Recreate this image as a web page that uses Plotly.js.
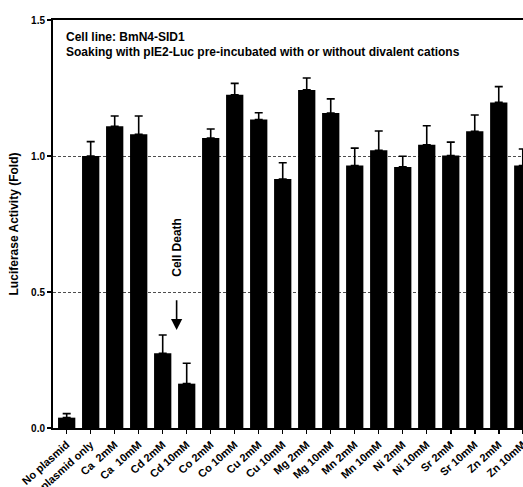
<!DOCTYPE html>
<html><head><meta charset="utf-8">
<script src="https://cdn.plot.ly/plotly-3.0.1.min.js"></script>
<style>html,body{margin:0;padding:0;overflow:hidden;background:#fff;}</style>
</head><body><div id="chart"></div>
<script>
const categories = ["No plasmid","plasmid only","Ca  2mM","Ca  10mM","Cd 2mM","Cd 10mM","Co 2mM","Co 10mM","Cu 2mM","Cu 10mM","Mg 2mM","Mg 10mM","Mn 2mM","Mn 10mM","Ni 2mM","Ni 10mM","Sr 2mM","Sr 10mM","Zn 2mM","Zn 10mM"];
const values = [0.038,1.0,1.109,1.080,0.275,0.163,1.066,1.225,1.134,0.915,1.243,1.158,0.965,1.021,0.960,1.041,1.002,1.091,1.197,0.965];
const errors = [0.015,0.053,0.038,0.067,0.067,0.075,0.033,0.042,0.025,0.060,0.044,0.052,0.064,0.071,0.039,0.070,0.049,0.060,0.058,0.061];
const yTicks = [0,0.5,1.0,1.5];
const yTickLabels = ["0.0","0.5","1.0","1.5"];

const idx = categories.map((c,i)=>i);
const F = "Liberation Sans, Arial, sans-serif";

const trace = {
  type:'bar', x: idx, y: values, width: 0.72,
  marker:{color:'#000', line:{width:0}},
  error_y:{type:'data', array: errors, arrayminus: errors.map(()=>0), symmetric:false, color:'#000', thickness:1.6, width:4},
  hoverinfo:'none'
};

const layout = {
  width:545, height:487,
  margin:{l:53, r:10, t:20, b:59},
  paper_bgcolor:'#fff', plot_bgcolor:'#fff',
  showlegend:false,
  font:{family:F, color:'#000'},
  xaxis:{
    range:[-0.57, 19.51], tickmode:'array', tickvals: idx, ticktext: categories,
    tickangle:-42, tickfont:{family:F, size:11, weight:'bold'},
    ticks:'outside', ticklen:4, tickwidth:1.5, tickcolor:'#000',
    showline:true, linewidth:2, linecolor:'#000', mirror:true,
    showgrid:false, zeroline:false
  },
  yaxis:{
    range:[0,1.5], tickmode:'array', tickvals:yTicks, ticktext:yTickLabels,
    tickfont:{family:F, size:10, weight:'bold'},
    ticks:'outside', ticklen:4, tickwidth:1.5, tickcolor:'#000',
    showline:true, linewidth:2, linecolor:'#000', mirror:true,
    showgrid:true, gridcolor:'#222', gridwidth:0.8, griddash:'3px,2px',
    zeroline:false,
    title:{text:'Luciferase Activity (Fold)', font:{family:F, size:12, weight:'bold'}, standoff:10}
  },
  annotations:[
    {xref:'paper', yref:'paper', x:0.022, y:0.958, xanchor:'left', yanchor:'middle', showarrow:false,
     text:'Cell line: BmN4-SID1', font:{family:F, size:12, weight:'bold'}},
    {xref:'paper', yref:'paper', x:0.022, y:0.922, xanchor:'left', yanchor:'middle', showarrow:false,
     text:'Soaking with pIE2-Luc pre-incubated with or without divalent cations', font:{family:F, size:12, weight:'bold'}},
    {xref:'x', yref:'y', x:4.58, y:0.665, showarrow:false, textangle:-90,
     text:'Cell Death', font:{family:'Liberation Sans', size:12, weight:'bold'}},
    {xref:'x', yref:'y', x:4.58, y:0.36, axref:'x', ayref:'y', ax:4.58, ay:0.475,
     text:'', showarrow:true, arrowhead:2, arrowsize:1.4, arrowwidth:1.6, arrowcolor:'#000'}
  ]
};

Plotly.newPlot('chart',[trace],layout,{displayModeBar:false, staticPlot:true});
</script></body></html>
